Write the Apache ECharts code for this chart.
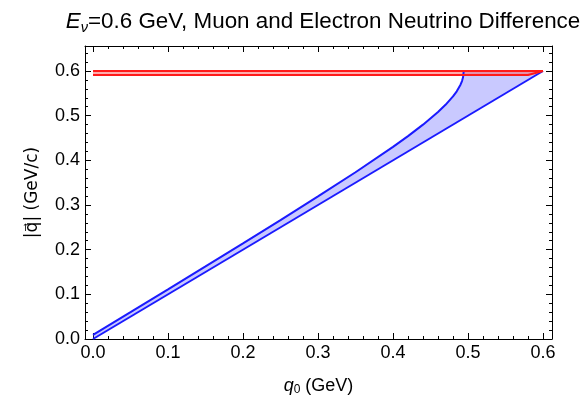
<!DOCTYPE html>
<html>
<head>
<meta charset="utf-8">
<script src="https://cdn.jsdelivr.net/npm/echarts@6/dist/echarts.min.js"></script>
<style>
  html, body { margin: 0; padding: 0; background: #fff; }
  #chart { width: 585px; height: 401px; }
</style>
</head>
<body>
<div id="chart"></div>
<script>
// muon lower edge |q| vs q0 (GeV)
var muonEdge = [
    [0, 0.0094], [0.05, 0.0602], [0.1, 0.1113], [0.15, 0.1626], [0.2, 0.2142],
    [0.25, 0.2663], [0.3, 0.3192], [0.35, 0.3734], [0.4, 0.4302], [0.42, 0.4543],
    [0.44, 0.4799], [0.46, 0.5082], [0.47, 0.5243], [0.48, 0.5431], [0.485, 0.5546],
    [0.49, 0.5694], [0.492, 0.5776], [0.4934, 0.5859], [0.4943, 0.6]
];
// electron lower edge |q| = q0
var electronEdge = [[0, 0], [0.6, 0.6]];
// top cap of the blue region
var blueTop = [[0.4943, 0.6], [0.6, 0.6]];
// thin red band at the top
var redUpper = [[0, 0.6], [0.6, 0.6]];
var redLower = [[0, 0.591], [0.58, 0.591], [0.6, 0.6]];

var xTicks = [0, 0.1, 0.2, 0.3, 0.4, 0.5, 0.6];
var yTicks = [0, 0.1, 0.2, 0.3, 0.4, 0.5, 0.6];
var xMinor = [0.02, 0.04, 0.06, 0.08, 0.12, 0.14, 0.16, 0.18, 0.22, 0.24, 0.26, 0.28,
    0.32, 0.34, 0.36, 0.38, 0.42, 0.44, 0.46, 0.48, 0.52, 0.54, 0.56, 0.58];
var yMinor = [0.02, 0.04, 0.06, 0.08, 0.12, 0.14, 0.16, 0.18, 0.22, 0.24, 0.26, 0.28,
    0.32, 0.34, 0.36, 0.38, 0.42, 0.44, 0.46, 0.48, 0.52, 0.54, 0.56, 0.58, 0.62, 0.64];

var X_MIN = -0.0107, X_MAX = 0.612, Y_MIN = 0, Y_MAX = 0.656;
var FONT = '"Liberation Sans", Arial, Helvetica, sans-serif';

var chart = echarts.init(document.getElementById('chart'));

function axisDef(dim, pos, values, len, labels, line) {
    return {
        type: 'value',
        position: pos,
        min: dim === 'x' ? X_MIN : Y_MIN,
        max: dim === 'x' ? X_MAX : Y_MAX,
        axisLine: { show: line, onZero: false, lineStyle: { color: '#000', width: 1 } },
        axisTick: { show: true, inside: true, length: len, customValues: values,
            lineStyle: { color: '#000', width: 1 } },
        axisLabel: { show: labels, customValues: values, color: '#000', fontSize: 18,
            fontFamily: FONT, margin: 5,
            formatter: function (v) { return v.toFixed(1); } },
        splitLine: { show: false }
    };
}

// polygon between two edges, drawn through the axes
function bandSeries(upper, lower, fill) {
    return {
        type: 'custom',
        xAxisIndex: 0, yAxisIndex: 0,
        data: [[0, 0]],
        silent: true,
        z: 1,
        renderItem: function (params, api) {
            var pts = upper.map(function (p) { return api.coord(p); });
            lower.slice().reverse().forEach(function (p) { pts.push(api.coord(p)); });
            return { type: 'polygon', shape: { points: pts }, style: { fill: fill } };
        }
    };
}

function lineSeries(data, color, z) {
    return {
        type: 'line', xAxisIndex: 0, yAxisIndex: 0, data: data, symbol: 'none',
        z: z, lineStyle: { color: color, width: 2 }
    };
}

var option = {
    animation: false,
    backgroundColor: '#fff',
    title: {
        text: '{it|E}{sub|ν}=0.6 GeV, Muon and Electron Neutrino Difference',
        left: 318, top: 4, textAlign: 'center',
        textStyle: {
            fontFamily: FONT, fontSize: 22.4, fontWeight: 'normal', color: '#000',
            rich: {
                it: { fontFamily: FONT, fontSize: 22.4, fontStyle: 'italic', color: '#000' },
                sub: { fontFamily: FONT, fontSize: 14.5, fontStyle: 'italic', color: '#000', padding: [11, 0, 0, 0] }
            }
        }
    },
    grid: { left: 85, right: 33, top: 46, bottom: 62, containLabel: false },
    xAxis: [
        Object.assign(axisDef('x', 'bottom', xTicks, 6, true, true), {
            name: '{it|q}{sub|0} (GeV)', nameLocation: 'middle', nameGap: 37,
            nameTextStyle: {
                fontFamily: FONT, fontSize: 18, color: '#000',
                rich: {
                    it: { fontFamily: FONT, fontSize: 18, fontStyle: 'italic', color: '#000' },
                    sub: { fontFamily: FONT, fontSize: 12, color: '#000', padding: [8, 0, 0, 0] }
                }
            }
        }),
        axisDef('x', 'bottom', xMinor, 3, false, false),
        axisDef('x', 'top', xTicks, 6, false, true),
        axisDef('x', 'top', xMinor, 3, false, false)
    ],
    yAxis: [
        Object.assign(axisDef('y', 'left', yTicks, 6, true, true), {
            name: '|q\u20D7| (GeV/c)', nameLocation: 'middle', nameGap: 44, nameRotate: 90,
            nameTextStyle: { fontFamily: '"DejaVu Sans", "Liberation Sans", sans-serif', fontSize: 17, color: '#000' }
        }),
        axisDef('y', 'left', yMinor, 3, false, false),
        axisDef('y', 'right', yTicks, 6, false, true),
        axisDef('y', 'right', yMinor, 3, false, false)
    ],
    series: [
        bandSeries(muonEdge.concat(blueTop), electronEdge, 'rgba(60,60,255,0.28)'),
        bandSeries(redUpper, redLower, 'rgba(255,90,90,0.5)'),
        lineSeries(electronEdge, '#1a1aff', 3),
        lineSeries(muonEdge, '#1a1aff', 3),
        lineSeries(blueTop, '#1a1aff', 3),
        lineSeries(redUpper, '#ff1a1a', 4),
        lineSeries(redLower, '#ff1a1a', 4)
    ]
};

chart.setOption(option);
</script>
</body>
</html>
